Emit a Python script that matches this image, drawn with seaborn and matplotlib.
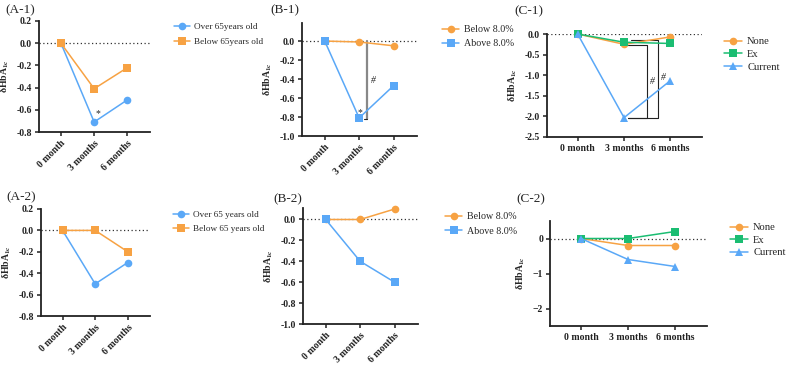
import numpy as np
import pandas as pd
import seaborn as sns
import matplotlib.pyplot as plt

sns.set_style("white")
plt.rcParams['font.family'] = ['Liberation Serif', 'DejaVu Serif']
plt.rcParams['mathtext.fontset'] = 'stix'

months = ["0 month", "3 months", "6 months"]

a1_over = [0, -0.71, -0.51]
a1_below = [0, -0.41, -0.22]
a2_over = [0, -0.50, -0.30]
a2_below = [0, 0.0, -0.20]
b1_below = [0, -0.01, -0.05]
b1_above = [0, -0.81, -0.47]
b2_below = [0, 0.0, 0.10]
b2_above = [0, -0.40, -0.60]
c1_none = [0, -0.25, -0.07]
c1_ex = [0, -0.20, -0.23]
c1_current = [0, -2.03, -1.13]
c2_none = [0, -0.20, -0.20]
c2_ex = [0, 0.0, 0.20]
c2_current = [0, -0.60, -0.80]

blue = "#5aa8f7"
orange = "#f7a243"
green = "#1bbd72"

W, H = 800, 373
fig = plt.figure(figsize=(W / 100, H / 100), dpi=100)


def px_axes(l, r, t, b):
    return fig.add_axes([l / W, (H - b) / H, (r - l) / W, (b - t) / H])


def panel(ax, series, colors, marks, label, yticks, ylim, rotate, leg_xy, lab_xy,
          spacing, leg_fs):
    rows = []
    for name, vals in series:
        for m, v in zip(months, vals):
            rows.append({"time": m, "value": v, "group": name})
    df = pd.DataFrame(rows)
    names = [s[0] for s in series]
    sns.lineplot(data=df, x="time", y="value", hue="group", style="group",
                 hue_order=names, style_order=names,
                 palette=dict(zip(names, colors)), markers=dict(zip(names, marks)),
                 dashes=False, markersize=5.5, linewidth=1.1, markeredgewidth=0,
                 ax=ax, clip_on=False, zorder=3)
    ax.axhline(0, color="#333333", ls=(0, (1, 2)), lw=0.9, zorder=1)
    ax.set_xlim(-0.66, 2.68)
    ax.set_ylim(*ylim)
    ax.set_yticks(yticks)
    ax.set_xticks(range(3))
    if rotate:
        ax.set_xticklabels(months, rotation=45, ha="right", rotation_mode="anchor",
                           fontweight="bold", fontsize=7)
    else:
        ax.set_xticklabels(months, fontweight="bold", fontsize=7)
    for t in ax.get_yticklabels():
        t.set_fontweight("bold")
        t.set_fontsize(7)
    ax.set_xlabel("")
    ax.set_ylabel(r"δHbA$_{\mathbf{1c}}$", fontsize=7, fontweight="bold", labelpad=4)
    sns.despine(ax=ax)
    for s in ["left", "bottom"]:
        ax.spines[s].set_linewidth(1.3)
        ax.spines[s].set_color("#222222")
    ax.tick_params(axis="both", which="both", direction="out", length=3, width=1.1,
                   colors="#222222", bottom=True, left=True, pad=2)
    h, l = ax.get_legend_handles_labels()
    ax.legend(h, l, loc="upper left", frameon=False, fontsize=leg_fs,
              bbox_to_anchor=(leg_xy[0] / W, 1 - leg_xy[1] / H),
              bbox_transform=fig.transFigure, borderpad=0, borderaxespad=0,
              handlelength=1.7, handletextpad=0.5, labelspacing=spacing,
              markerscale=1.0)
    fig.text(lab_xy[0] / W, 1 - lab_xy[1] / H, label, fontsize=9.5, va="center", ha="left")


a_ticks = [0.2, 0.0, -0.2, -0.4, -0.6, -0.8]
b_ticks = [0.0, -0.2, -0.4, -0.6, -0.8, -1.0]

ax1 = px_axes(39, 150, 21, 132)
panel(ax1, [("Over 65years old", a1_over), ("Below 65years old", a1_below)],
      [blue, orange], ["o", "s"], "(A-1)", a_ticks, (-0.8, 0.2), True,
      (174, 23), (5, 10), 0.65, 6.6)
ax1.yaxis.set_major_formatter(plt.FormatStrFormatter("%.1f"))
ax1.text(1.12, -0.63, "*", fontsize=7, ha="center", va="center")

ax2 = px_axes(41, 150, 209, 316)
panel(ax2, [("Over 65 years old", a2_over), ("Below 65 years old", a2_below)],
      [blue, orange], ["o", "s"], "(A-2)", a_ticks, (-0.8, 0.2), True,
      (173, 211), (6, 197), 0.55, 6.6)
ax2.yaxis.set_major_formatter(plt.FormatStrFormatter("%.1f"))

ax3 = px_axes(302, 417, 23, 136)
panel(ax3, [("Below 8.0%", b1_below), ("Above 8.0%", b1_above)],
      [orange, blue], ["o", "s"], "(B-1)", b_ticks, (-1.0, 0.19), True,
      (442, 25), (270, 10), 0.55, 7.2)
ax3.yaxis.set_major_formatter(plt.FormatStrFormatter("%.1f"))
ax3.plot([1.24, 1.24], [0.0, -0.82], color="#888888", lw=1.6, zorder=2)
ax3.plot([1.14, 1.24], [-0.82, -0.82], color="#222222", lw=0.8, zorder=2)
ax3.text(1.4, -0.42, "#", fontsize=7, ha="center", va="center", style="italic")
ax3.text(1.03, -0.75, "*", fontsize=7, ha="center", va="center")

ax4 = px_axes(303, 418, 208, 324)
panel(ax4, [("Below 8.0%", b2_below), ("Above 8.0%", b2_above)],
      [orange, blue], ["o", "s"], "(B-2)", b_ticks, (-1.0, 0.11), True,
      (445, 212), (273, 199), 0.55, 7.2)
ax4.yaxis.set_major_formatter(plt.FormatStrFormatter("%.1f"))

ax5 = px_axes(547, 702, 34, 137)
panel(ax5, [("None", c1_none), ("Ex", c1_ex), ("Current", c1_current)],
      [orange, green, blue], ["o", "s", "^"], "(C-1)",
      [0.0, -0.5, -1.0, -1.5, -2.0, -2.5], (-2.5, 0.0), False,
      (724, 37), (514, 11), 0.3, 7.6)
ax5.yaxis.set_major_formatter(plt.FormatStrFormatter("%.1f"))
ax5.plot([1.08, 1.5, 1.5, 1.08], [-0.27, -0.27, -2.03, -2.03], color="#222222", lw=0.8)
ax5.plot([1.16, 1.74, 1.74, 1.08], [-0.15, -0.15, -2.03, -2.03], color="#222222", lw=0.8)
ax5.text(1.6, -1.15, "#", fontsize=7, ha="center", va="center", style="italic")
ax5.text(1.85, -1.05, "#", fontsize=7, ha="center", va="center", style="italic")

ax6 = px_axes(550, 707, 221, 326)
panel(ax6, [("None", c2_none), ("Ex", c2_ex), ("Current", c2_current)],
      [orange, green, blue], ["o", "s", "^"], "(C-2)",
      [0, -1, -2], (-2.5, 0.5), False,
      (730, 223), (516, 199), 0.3, 7.6)

fig.savefig("out.png", dpi=100)
